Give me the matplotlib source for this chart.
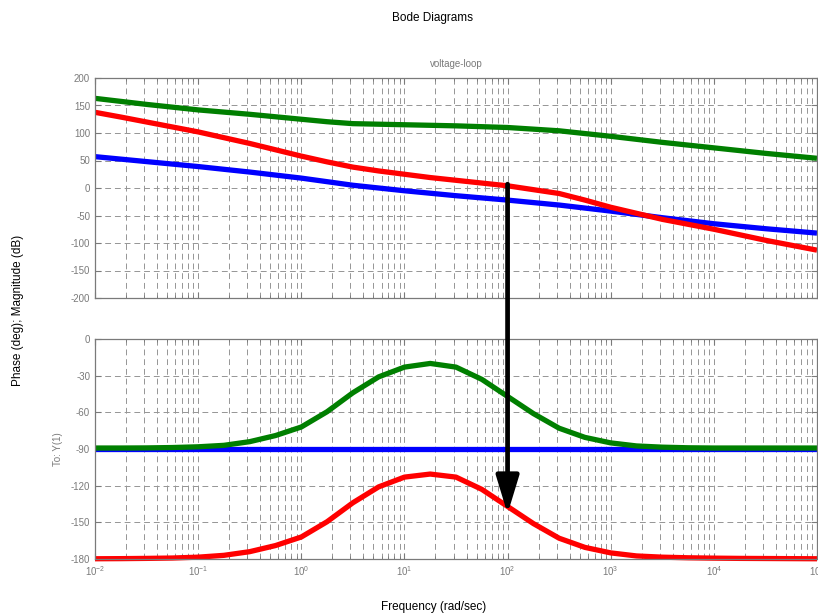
import numpy as np
import matplotlib
matplotlib.use("Agg")
import matplotlib.pyplot as plt
from matplotlib.patches import ConnectionPatch
from matplotlib.ticker import LogLocator, MultipleLocator, NullFormatter

plt.rcParams['font.family'] = ['Liberation Sans', 'DejaVu Sans']
plt.rcParams['mathtext.fontset'] = 'custom'
plt.rcParams['mathtext.rm'] = 'Liberation Sans'
plt.rcParams['mathtext.default'] = 'regular'
plt.rcParams['axes.unicode_minus'] = False

# frequency grid (log10 rad/sec)
log_w = [-2, -1.75, -1.5, -1.25, -1, -0.75, -0.5, -0.25, 0, 0.25, 0.5, 0.75, 1,
         1.25, 1.5, 1.75, 2, 2.25, 2.5, 2.75, 3, 3.25, 3.5, 3.75, 4, 4.25, 4.5, 4.75, 5]

mag_blue = [57, 52.5, 48, 43.5, 39, 34, 29, 23.5, 18, 11.5, 5, 0, -5, -9.5, -14, -18, -22,
            -26.5, -31, -36.5, -42, -48, -54, -59.5, -65, -69.5, -74, -78, -82]
mag_green = [163, 157.5, 152, 147, 142, 138, 134, 129.5, 125, 120.5, 117, 116, 115, 114,
             113, 111.5, 110, 107, 104, 99, 94, 88.5, 83, 78, 73, 68, 63, 58.5, 54]
mag_red = [137.6, 129, 120, 111, 102, 91.5, 81, 69.5, 58, 47.5, 38, 31, 25, 19, 14, 9,
           4, -3, -10, -22, -35, -46, -57, -66, -75, -85, -95, -104, -113]

ph_blue = [-90] * len(log_w)
ph_green = [-89.2, -89.2, -89.1, -88.8, -88.2, -87, -84, -79, -72, -59.5, -44, -31, -23,
            -20, -23, -33, -47, -61, -73, -80.5, -85, -87.5, -88.5, -89, -89.2, -89.2,
            -89.2, -89.2, -89.2]
ph_red = [-179.8, -179.7, -179.5, -179.2, -178.5, -177, -174, -169, -162, -149.5, -134,
          -121, -113, -110.5, -113, -123, -137, -151, -163, -170.5, -175, -177.5, -178.5,
          -179, -179.3, -179.5, -179.6, -179.7, -179.8]

w = np.power(10.0, log_w)

fig = plt.figure(figsize=(8.18, 6.16), dpi=100)
ax1 = fig.add_axes([95/818, 1-298/616, 722/818, 220/616])
ax2 = fig.add_axes([95/818, 1-559/616, 722/818, 220/616])

gray = '#7a7a7a'
gridc = '#959595'
lw = 3.8

for ax in (ax1, ax2):
    ax.set_xscale('log')
    ax.set_xlim(1e-2, 1e5)
    ax.xaxis.set_major_locator(LogLocator(base=10, numticks=20))
    ax.xaxis.set_minor_locator(LogLocator(base=10, subs=np.arange(2, 10), numticks=100))
    ax.xaxis.set_minor_formatter(NullFormatter())
    ax.grid(True, which='both', axis='x', color=gridc, linestyle=(0, (6, 4)), linewidth=0.7)
    ax.grid(True, which='major', axis='y', color=gridc, linestyle=(0, (6, 4)), linewidth=0.7)
    for s in ax.spines.values():
        s.set_color(gray)
        s.set_linewidth(0.9)
    ax.tick_params(which='both', direction='in', top=True, right=True, color=gray,
                   labelcolor=gray, labelsize=7)
    ax.tick_params(which='major', length=4)
    ax.tick_params(which='minor', length=2)

ax1.plot(w, mag_blue, color='#0000ff', lw=lw, solid_capstyle='butt')
ax1.plot(w, mag_green, color='#007f00', lw=lw, solid_capstyle='butt')
ax1.plot(w, mag_red, color='#ff0000', lw=lw, solid_capstyle='butt')
ax1.set_ylim(-200, 200)
ax1.yaxis.set_major_locator(MultipleLocator(50))
ax1.tick_params(labelbottom=False)
ax1.set_title('voltage-loop', fontsize=7, color=gray, pad=8)

ax2.plot(w, ph_blue, color='#0000ff', lw=lw, solid_capstyle='butt', clip_on=False)
ax2.plot(w, ph_green, color='#007f00', lw=lw, solid_capstyle='butt', clip_on=False)
ax2.plot(w, ph_red, color='#ff0000', lw=lw, solid_capstyle='butt', clip_on=False)
ax2.set_ylim(-180, 0)
ax2.yaxis.set_major_locator(MultipleLocator(30))

# arrow from magnitude plot to phase plot at 100 rad/sec
con = ConnectionPatch(xyA=(100, 7), coordsA=ax1.transData,
                      xyB=(100, -143), coordsB=ax2.transData,
                      arrowstyle='-|>,head_length=2.3,head_width=0.7', mutation_scale=10,
                      color='black', lw=3.4, shrinkA=0, shrinkB=0, capstyle='round',
                      zorder=10)
fig.add_artist(con)

fig.text(433/818, 1-18/616, 'Bode Diagrams', ha='center', va='center', fontsize=8.5)
fig.text(18/818, 1-310/616, 'Phase (deg); Magnitude (dB)', rotation=90,
         ha='center', va='center', fontsize=8.5)
fig.text(58/818, 1-449/616, 'To: Y(1)', rotation=90, ha='center', va='center',
         fontsize=7, color=gray)
fig.text(434/818, 1-607/616, 'Frequency (rad/sec)', ha='center', va='center', fontsize=8.5)

fig.savefig('out.png', dpi=100)
